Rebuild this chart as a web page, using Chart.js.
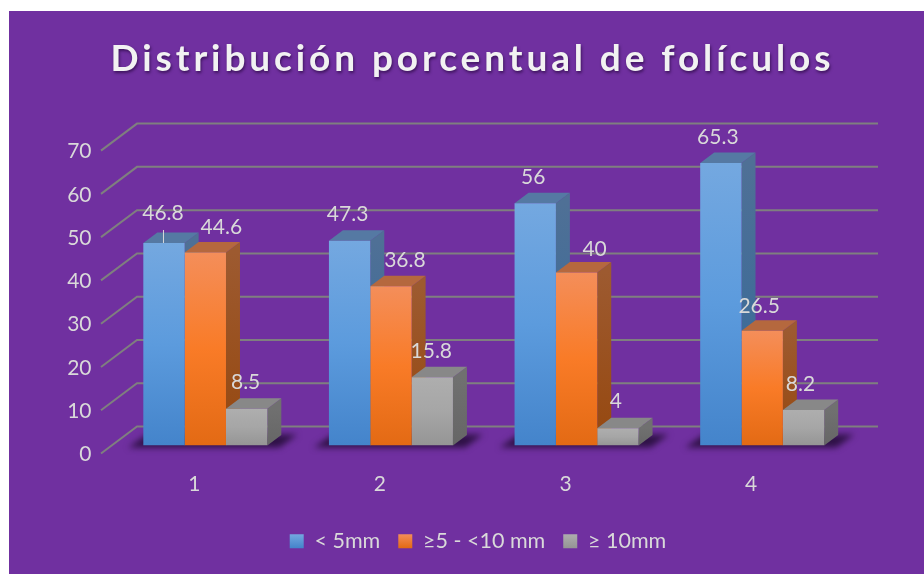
<!DOCTYPE html>
<html>
<head>
<meta charset="utf-8">
<style>
  html, body { margin: 0; padding: 0; background: #fff; overflow: hidden; }
  #panel { position: absolute; left: 9px; top: 11px; right: 0; bottom: 0; background: #7030A0; }
  #wrap { position: absolute; left: 0; top: 0; width: 924px; height: 574px; }
</style>
<script src="https://cdn.jsdelivr.net/npm/chart.js@4"></script>
</head>
<body>
<div id="panel"></div>
<div id="wrap"><canvas id="chart" width="924" height="574"></canvas></div>
<script>
const chartTitle = "Distribución porcentual de folículos";
const categories = ["1", "2", "3", "4"];
const seriesNames = ["< 5mm", "≥5 - <10 mm", "≥ 10mm"];
const under5 = [46.8, 47.3, 56, 65.3];
const from5to10 = [44.6, 36.8, 40, 26.5];
const over10 = [8.5, 15.8, 4, 8.2];

// front gradient, side gradient, top colour for each series
const frontColors = [
    ["#74A8E0", "#5C9BDD", "#4484CB"],
    ["#F48E5A", "#F97B27", "#E36A14"],
    ["#AEAEAE", "#A6A6A6", "#959595"]
];
const sideColors = [["#4F7096", "#33699A"], ["#9D5A30", "#96480F"], ["#707070", "#666666"]];
const topColors = ["#5579A3", "#B5683E", "#888888"];

// the picture nudges some value labels off their bars
const labelShiftX = [[-1, -2, -2, -3], [16, 14, 18, -3], [-1, -1, -2, -3]];
const labelShiftY = [[-30, -27, -26, -26], [-25, -26, -23, -25], [-26, -26, -27, -26]];

const depthX = 14, depthY = 10.5;        // bar depth
const gridFront = { x: -11.5, y: 8 };    // grid line start relative to bar plane
const gridBack = { x: 24.5, y: -19 };    // grid line corner relative to bar plane
const gridEnd = 23;

function frontFill(context) {
    const chart = context.chart;
    const y = chart.scales.y;
    if (context.type !== "data" || !y) return frontColors[context.datasetIndex][1];
    const g = chart.ctx.createLinearGradient(0, y.getPixelForValue(context.raw), 0, y.getPixelForValue(0));
    const c = frontColors[context.datasetIndex];
    g.addColorStop(0, c[0]);
    g.addColorStop(0.5, c[1]);
    g.addColorStop(1, c[2]);
    return g;
}

// grid lines, floor shadows and the side and top faces of the bars
const depthPlugin = {
    id: "depth",
    beforeDatasetsDraw(chart) {
        const ctx = chart.ctx;
        const area = chart.chartArea;
        const y = chart.scales.y;

        ctx.save();
        ctx.strokeStyle = "#7F7F7F";
        ctx.lineWidth = 2;
        y.ticks.forEach(t => {
            const py = y.getPixelForValue(t.value);
            ctx.beginPath();
            ctx.moveTo(area.left + gridFront.x, py + gridFront.y);
            ctx.lineTo(area.left + gridBack.x, py + gridBack.y);
            ctx.lineTo(area.right + gridEnd, py + gridBack.y);
            ctx.stroke();
        });
        ctx.restore();

        const metas = chart.data.datasets.map((d, i) => chart.getDatasetMeta(i));

        // shadow on the floor
        categories.forEach((c, j) => {
            const first = metas[0].data[j];
            const last = metas[metas.length - 1].data[j];
            const left = first.x - first.width / 2;
            const right = last.x + last.width / 2;
            const base = first.base;
            ctx.save();
            ctx.filter = "blur(3px)";
            ctx.fillStyle = "#2E1145";
            ctx.beginPath();
            ctx.moveTo(left - 15, base + 2);
            ctx.lineTo(left + 4, base - 11);
            ctx.lineTo(right + 30, base - 11);
            ctx.lineTo(right + 12, base + 2);
            ctx.closePath();
            ctx.fill();
            ctx.restore();
        });

        metas.forEach((meta, i) => {
            meta.data.forEach(bar => {
                const left = bar.x - bar.width / 2;
                const right = bar.x + bar.width / 2;
                const side = ctx.createLinearGradient(0, bar.y, 0, bar.base);
                side.addColorStop(0, sideColors[i][0]);
                side.addColorStop(1, sideColors[i][1]);
                ctx.fillStyle = side;
                ctx.beginPath();
                ctx.moveTo(right, bar.y);
                ctx.lineTo(right + depthX, bar.y - depthY);
                ctx.lineTo(right + depthX, bar.base - depthY);
                ctx.lineTo(right, bar.base);
                ctx.closePath();
                ctx.fill();

                ctx.fillStyle = topColors[i];
                ctx.beginPath();
                ctx.moveTo(left, bar.y);
                ctx.lineTo(left + depthX, bar.y - depthY);
                ctx.lineTo(right + depthX, bar.y - depthY);
                ctx.lineTo(right, bar.y);
                ctx.closePath();
                ctx.fill();
            });
        });
    },
    // value labels
    afterDatasetsDraw(chart) {
        const ctx = chart.ctx;
        ctx.save();
        ctx.font = "21px Lato";
        ctx.fillStyle = "#D9D9D9";
        ctx.textAlign = "center";
        ctx.textBaseline = "middle";
        chart.data.datasets.forEach((d, i) => {
            chart.getDatasetMeta(i).data.forEach((bar, j) => {
                ctx.fillText(String(d.data[j]), bar.x + labelShiftX[i][j], bar.y + labelShiftY[i][j]);
            });
        });
        // small leader line on the first label
        const firstBar = chart.getDatasetMeta(0).data[0];
        ctx.strokeStyle = "#D9D9D9";
        ctx.lineWidth = 1;
        ctx.beginPath();
        ctx.moveTo(firstBar.x - 0.5, firstBar.y - 13);
        ctx.lineTo(firstBar.x - 0.5, firstBar.y);
        ctx.stroke();
        ctx.restore();
    }
};

// the title has wide letter spacing and a soft shadow
const titleStylePlugin = {
    id: "titleStyle",
    afterInit(chart) {
        const block = chart.titleBlock;
        const drawTitle = block.draw.bind(block);
        block.draw = function () {
            const ctx = chart.ctx;
            ctx.save();
            ctx.translate(-5.5, 0);
            ctx.letterSpacing = "3.9px";
            ctx.shadowColor = "rgba(30,0,50,0.6)";
            ctx.shadowBlur = 3;
            ctx.shadowOffsetX = 1;
            ctx.shadowOffsetY = 2;
            drawTitle();
            ctx.restore();
        };
    }
};

new Chart(document.getElementById("chart").getContext("2d"), {
    type: "bar",
    data: {
        labels: categories,
        datasets: [
            { label: seriesNames[0], data: under5, backgroundColor: frontFill },
            { label: seriesNames[1], data: from5to10, backgroundColor: frontFill },
            { label: seriesNames[2], data: over10, backgroundColor: frontFill }
        ]
    },
    options: {
        responsive: false,
        animation: false,
        layout: { padding: { left: 42, right: 10, top: 30, bottom: 12 } },
        datasets: { bar: { categoryPercentage: 0.668, barPercentage: 1, borderWidth: 0 } },
        scales: {
            x: {
                grid: { display: false },
                border: { display: false },
                ticks: { color: "#D9D9D9", font: { family: "Lato", size: 21 }, padding: 18, labelOffset: -11 },
                afterFit(scale) { scale.height = 67; }
            },
            y: {
                min: 0,
                max: 70,
                grid: { display: false, drawTicks: false },
                border: { display: false },
                ticks: { stepSize: 10, color: "#D9D9D9", font: { family: "Lato", size: 21 }, padding: 21, labelOffset: 9 },
                afterFit(scale) { scale.width = 70.5; }
            },
            // empty axis that holds the right margin
            margin: {
                position: "right",
                grid: { display: false, drawTicks: false },
                border: { display: false },
                ticks: { display: false },
                afterFit(scale) { scale.width = 59; }
            }
        },
        plugins: {
            title: {
                display: true,
                text: chartTitle,
                color: "#F2F2F2",
                font: { family: "Lato", size: 37, weight: "bold" },
                padding: { top: 6.5, bottom: 61.7 }
            },
            legend: {
                position: "bottom",
                labels: {
                    color: "#D9D9D9",
                    font: { family: "Lato", size: 21.5 },
                    boxWidth: 14,
                    boxHeight: 14,
                    padding: 18,
                    generateLabels(chart) {
                        return seriesNames.map((name, i) => {
                            const g = chart.ctx.createLinearGradient(0, 534, 0, 548);
                            g.addColorStop(0, frontColors[i][0]);
                            g.addColorStop(1, frontColors[i][2]);
                            return { text: name, fillStyle: g, strokeStyle: "transparent", lineWidth: 0, fontColor: "#D9D9D9", datasetIndex: i };
                        });
                    }
                }
            },
            tooltip: { enabled: false }
        }
    },
    plugins: [depthPlugin, titleStylePlugin]
});
</script>
</body>
</html>
